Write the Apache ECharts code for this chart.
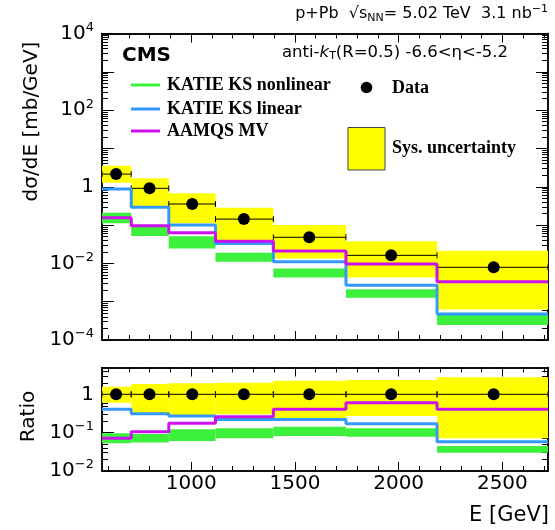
<!DOCTYPE html>
<html><head><meta charset="utf-8">
<script src="https://cdn.jsdelivr.net/npm/echarts@6/dist/echarts.min.js"></script>
<style>html,body{margin:0;padding:0;background:#fff}#c{width:555px;height:530px}</style>
</head><body><div id="c"></div>
<script>
// ---------- data ----------
const binEdges = [570, 711, 892, 1117, 1396, 1746, 2185, 2720];
const dataE = [638, 799, 1005, 1254, 1569, 1964, 2458];
const dataXsec = [2.14, 0.91, 0.354, 0.143, 0.048, 0.0162, 0.0079];
const sysHigh = [3.53, 1.66, 0.673, 0.283, 0.100, 0.038, 0.0214];
const sysLow = [1.27, 0.313, 0.111, 0.0406, 0.0135, 0.0043, 0.00063];
const katieLinear = [0.87, 0.29, 0.10, 0.033, 0.011, 0.0027, 0.00048];
const aamqsMV = [0.155, 0.096, 0.063, 0.038, 0.021, 0.0096, 0.0033];
const katieNonlinHigh = [0.21, 0.091, 0.051, 0.019, 0.0074, 0.0021, 0.00045];
const katieNonlinLow = [0.111, 0.052, 0.0246, 0.011, 0.0043, 0.00126, 0.000245];

const ratioData = [1, 1, 1, 1, 1, 1, 1];
const ratioSysHigh = [1.58, 1.85, 1.94, 2.0, 2.26, 2.36, 2.77];
const ratioSysLow = [0.60, 0.32, 0.29, 0.30, 0.24, 0.27, 0.071];
const ratioKatieLinear = [0.41, 0.31, 0.27, 0.22, 0.22, 0.17, 0.058];
const ratioAamqsMV = [0.071, 0.106, 0.175, 0.26, 0.41, 0.60, 0.41];
const ratioNonlinHigh = [0.096, 0.092, 0.122, 0.13, 0.143, 0.13, 0.045];
const ratioNonlinLow = [0.053, 0.055, 0.061, 0.071, 0.082, 0.078, 0.030];

const xMajorTicks = [1000, 1500, 2000, 2500];
const xMinorTicks = [600, 700, 800, 900, 1100, 1200, 1300, 1400, 1600, 1700, 1800, 1900, 2100, 2200, 2300, 2400, 2600, 2700];
const yTopDecades = [1e-4, 1e-3, 1e-2, 1e-1, 1, 10, 100, 1000, 10000];
const yTopLabels = [1e-4, 1e-2, 1, 100, 10000];
const yRatioDecades = [0.01, 0.1, 1];
const yRatioLabels = [0.01, 0.1, 1];

// ---------- styling ----------
const FONT = 'DejaVu Sans';
const C_YEL = '#ffff00', C_GRN = '#3cf03c', C_BLU = '#3399ff', C_MAG = '#cc11ee';
const X_MIN = 570, X_MAX = 2720;
const AXLINE = { show: true, onZero: false, lineStyle: { color: '#000', width: 1.5 } };

function minorLog(lo, hi) {
  const out = [];
  for (let e = -6; e <= 5; e++) {
    for (let k = 2; k <= 9; k++) {
      const v = k * Math.pow(10, e);
      if (v > lo && v < hi) out.push(+v.toPrecision(3));
    }
  }
  return out;
}

function logLabel(v) {
  const e = Math.round(Math.log10(v));
  if (e === 0) return '{b|1}';
  return '{b|10}{s|' + (e < 0 ? '\u2212' + (-e) : e) + '}';
}
const labelRich = {
  b: { fontSize: 20, fontFamily: FONT, color: '#000' },
  s: { fontSize: 13, fontFamily: FONT, color: '#000', padding: [0, 0, 12, 0] }
};

function xAxes(gi, labels) {
  const base = { type: 'value', gridIndex: gi, min: X_MIN, max: X_MAX, splitLine: { show: false } };
  const mk = (pos, ticks, len, showLab) => Object.assign({}, base, {
    position: pos,
    axisLine: AXLINE,
    axisTick: { show: true, inside: true, length: len, customValues: ticks, lineStyle: { color: '#000', width: 1 } },
    axisLabel: showLab ? { show: true, customValues: xMajorTicks, fontSize: 20, fontFamily: FONT, color: '#000', margin: 3,
      formatter: function (v) { return String(v); } } : { show: false }
  });
  return [mk('bottom', xMajorTicks, 9, labels), mk('bottom', xMinorTicks, 5, false),
          mk('top', xMajorTicks, 9, false), mk('top', xMinorTicks, 5, false)];
}

function yAxes(gi, min, max, decades, labs) {
  const minors = minorLog(min, max);
  const base = { type: 'log', logBase: 10, gridIndex: gi, min: min, max: max, splitLine: { show: false } };
  const mk = (pos, ticks, len, showLab) => Object.assign({}, base, {
    position: pos,
    axisLine: AXLINE,
    axisTick: { show: true, inside: true, length: len, customValues: ticks, lineStyle: { color: '#000', width: 1 } },
    axisLabel: showLab ? { show: true, customValues: labs, formatter: logLabel, rich: labelRich, margin: 8 } : { show: false }
  });
  return [mk('left', decades, 12, true), mk('left', minors, 6, false),
          mk('right', decades, 12, false), mk('right', minors, 6, false)];
}

function bandSeries(gi, lo, hi, color) {
  return {
    type: 'custom', xAxisIndex: gi * 4, yAxisIndex: gi * 4, clip: true,
    encode: { x: [0, 1], y: [2, 3] },
    data: lo.map((v, i) => [binEdges[i], binEdges[i + 1], v, hi[i]]),
    renderItem: function (params, api) {
      const p1 = api.coord([api.value(0), api.value(3)]);
      const p2 = api.coord([api.value(1), api.value(2)]);
      return { type: 'rect', shape: { x: p1[0], y: p1[1], width: p2[0] - p1[0], height: p2[1] - p1[1] },
        style: { fill: color } };
    }
  };
}

function stepSeries(gi, vals, color) {
  const d = vals.map((v, i) => [binEdges[i], v]);
  d.push([binEdges[binEdges.length - 1], vals[vals.length - 1]]);
  return { type: 'line', xAxisIndex: gi * 4, yAxisIndex: gi * 4, step: 'end', data: d,
    showSymbol: false, symbol: 'none', lineStyle: { color: color, width: 3 }, itemStyle: { color: color },
    clip: true };
}

function errSeries(gi, vals) {
  return {
    type: 'custom', xAxisIndex: gi * 4, yAxisIndex: gi * 4, clip: true,
    encode: { x: [0, 1], y: 2 },
    data: vals.map((v, i) => [binEdges[i], binEdges[i + 1], v]),
    renderItem: function (params, api) {
      const a = api.coord([api.value(0), api.value(2)]);
      const b = api.coord([api.value(1), api.value(2)]);
      const st = { stroke: '#000', lineWidth: 1 };
      return { type: 'group', children: [
        { type: 'line', shape: { x1: a[0], y1: a[1], x2: b[0], y2: b[1] }, style: st },
        { type: 'line', shape: { x1: a[0], y1: a[1] - 3, x2: a[0], y2: a[1] + 3 }, style: st },
        { type: 'line', shape: { x1: b[0], y1: b[1] - 3, x2: b[0], y2: b[1] + 3 }, style: st }
      ] };
    }
  };
}

function pointSeries(gi, vals) {
  return { type: 'scatter', xAxisIndex: gi * 4, yAxisIndex: gi * 4, symbol: 'circle', symbolSize: 12,
    itemStyle: { color: '#000', opacity: 1 }, data: vals.map((v, i) => [dataE[i], v]) };
}

const chart = echarts.init(document.getElementById('c'), null, { renderer: 'canvas' });
const option = {
  animation: false,
  backgroundColor: '#fff',
  grid: [
    { left: 102, top: 33.5, width: 446, height: 306.5 },
    { left: 102, top: 367.5, width: 446, height: 103.5 }
  ],
  xAxis: xAxes(0, false).concat(xAxes(1, true)),
  yAxis: yAxes(0, 1e-4, 1e4, yTopDecades, yTopLabels).concat(yAxes(1, 0.01, 5, yRatioDecades, yRatioLabels)),
  series: [
    bandSeries(0, sysLow, sysHigh, C_YEL),
    bandSeries(0, katieNonlinLow, katieNonlinHigh, C_GRN),
    stepSeries(0, katieLinear, C_BLU),
    stepSeries(0, aamqsMV, C_MAG),
    errSeries(0, dataXsec),
    pointSeries(0, dataXsec),
    bandSeries(1, ratioSysLow, ratioSysHigh, C_YEL),
    bandSeries(1, ratioNonlinLow, ratioNonlinHigh, C_GRN),
    stepSeries(1, ratioKatieLinear, C_BLU),
    stepSeries(1, ratioAamqsMV, C_MAG),
    errSeries(1, ratioData),
    pointSeries(1, ratioData)
  ],
  graphic: [
    { type: 'text', right: 7, top: 4, style: {
        text: '{n|p+Pb  \u221A}{n|s}{sub|NN}{n|= 5.02 TeV  3.1 nb}{sup|\u22121}',
        rich: {
          n: { fontSize: 16, fontFamily: FONT, color: '#000' },
          sub: { fontSize: 11, fontFamily: FONT, color: '#000', padding: [8, 0, 0, 0] },
          sup: { fontSize: 11, fontFamily: FONT, color: '#000', padding: [0, 0, 9, 0] }
        } } },
    { type: 'text', left: 122, top: 46, style: { text: 'CMS', font: 'bold 20px "DejaVu Sans"', fill: '#000' } },
    { type: 'text', left: 282, top: 44, style: {
        text: '{n|anti-}{i|k}{sub|T}{n|(R=0.5) -6.6<\u03B7<-5.2}',
        rich: {
          n: { fontSize: 16.5, fontFamily: FONT, color: '#000' },
          i: { fontSize: 16.5, fontFamily: FONT, fontStyle: 'italic', color: '#000' },
          sub: { fontSize: 11, fontFamily: FONT, color: '#000', padding: [8, 0, 0, 0] }
        } } },
    // legend
    { type: 'line', shape: { x1: 131, y1: 85, x2: 160, y2: 85 }, style: { stroke: C_GRN, lineWidth: 3 } },
    { type: 'line', shape: { x1: 131, y1: 109, x2: 160, y2: 109 }, style: { stroke: C_BLU, lineWidth: 3 } },
    { type: 'line', shape: { x1: 131, y1: 131, x2: 160, y2: 131 }, style: { stroke: C_MAG, lineWidth: 3 } },
    { type: 'text', x: 167, y: 85, style: { text: 'KATIE KS nonlinear', font: 'bold 18px "Liberation Serif"', fill: '#000', textVerticalAlign: 'middle' } },
    { type: 'text', x: 167, y: 109, style: { text: 'KATIE KS linear', font: 'bold 18px "Liberation Serif"', fill: '#000', textVerticalAlign: 'middle' } },
    { type: 'text', x: 167, y: 131, style: { text: 'AAMQS MV', font: 'bold 18px "Liberation Serif"', fill: '#000', textVerticalAlign: 'middle' } },
    { type: 'circle', shape: { cx: 366.5, cy: 87.5, r: 5.8 }, style: { fill: '#000' } },
    { type: 'text', x: 392, y: 88, style: { text: 'Data', font: 'bold 18px "Liberation Serif"', fill: '#000', textVerticalAlign: 'middle' } },
    { type: 'rect', shape: { x: 348, y: 127.5, width: 37, height: 42.5 }, style: { fill: C_YEL, stroke: '#444', lineWidth: 1 } },
    { type: 'text', x: 392, y: 148, style: { text: 'Sys. uncertainty', font: 'bold 18px "Liberation Serif"', fill: '#000', textVerticalAlign: 'middle' } },
    // axis titles
    { type: 'text', x: 32, y: 121.5, rotation: Math.PI / 2, style: { text: 'd\u03C3/dE [mb/GeV]', font: '20px "DejaVu Sans"', fill: '#000', textAlign: 'center', textVerticalAlign: 'middle' } },
    { type: 'text', x: 29, y: 416.5, rotation: Math.PI / 2, style: { text: 'Ratio', font: '20px "DejaVu Sans"', fill: '#000', textAlign: 'center', textVerticalAlign: 'middle' } },
    { type: 'text', x: 549, y: 516, style: { text: 'E [GeV]', font: '21px "DejaVu Sans"', fill: '#000', textAlign: 'right', textVerticalAlign: 'middle' } }
  ]
};
chart.setOption(option);
</script>
</body></html>
